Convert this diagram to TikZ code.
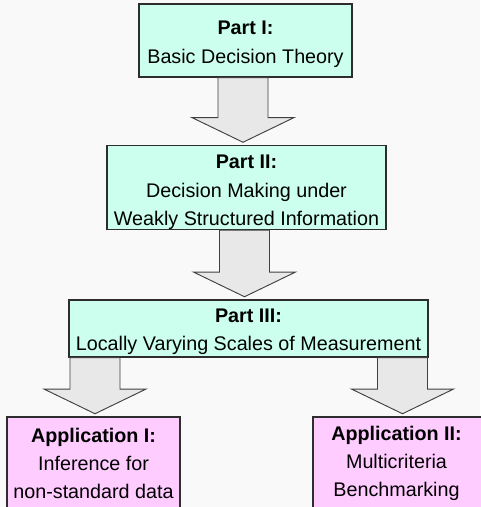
\documentclass[tikz,border=0pt]{standalone}
\usepackage{fontspec}
\setmainfont{Liberation Sans}
\usetikzlibrary{calc}
\definecolor{bgcol}{RGB}{249,249,249}
\definecolor{partfill}{RGB}{204,255,238}
\definecolor{appfill}{RGB}{255,204,255}
\definecolor{arrowfill}{RGB}{232,232,232}
\definecolor{arrowline}{RGB}{64,64,64}
\definecolor{boxline}{RGB}{45,45,45}
\tikzset{
  box/.style={draw=boxline, line width=0.9pt, align=center, inner sep=0pt,
    font=\fontsize{14.8}{21.2}\selectfont},
  partbox/.style={box, fill=partfill},
  appbox/.style={box, fill=appfill},
  appframe/.style={draw=boxline, line width=0.9pt, fill=appfill},
  blockarrowstyle/.style={draw=arrowline, line width=0.7pt, fill=arrowfill, line join=miter}
}
\newcommand\blockarrow[2]{%
  \draw[blockarrowstyle] let \p1=(#1), \p2=(#2) in
    (\x1-18.75pt,\y1) -- (\x1-18.75pt,\y2+20.5pt) -- (\x1-38.25pt,\y2+20.5pt)
    -- (\x1,\y2+2pt) -- (\x1+38.25pt,\y2+20.5pt) -- (\x1+18.75pt,\y2+20.5pt)
    -- (\x1+18.75pt,\y1) -- cycle;}
\begin{document}
\begin{tikzpicture}[x=0.75pt,y=-0.75pt]
  \fill[bgcol] (0,0) rectangle (480,507);
  \useasboundingbox (0,0) rectangle (480,507);
  \node[partbox, minimum width=159.75pt, minimum height=54.75pt] (p1) at (245.5,40.5)
    {\rule{0pt}{16pt}\textbf{Part I:}\\Basic Decision Theory};
  \node[partbox, minimum width=209.25pt, minimum height=60.75pt] (p2) at (246.5,187.5)
    {\rule{0pt}{17.5pt}\textbf{Part II:}\\Decision Making under\\Weakly Structured Information};
  \node[partbox, minimum width=269.25pt, minimum height=42.75pt] (p3) at (248.5,328.5)
    {\rule{0pt}{15pt}\textbf{Part III:}\\Locally Varying Scales of Measurement};
  \node[appbox, minimum width=129.75pt, minimum height=69.75pt] (a1) at (93.5,463.5)
    {\textbf{Application I:}\\Inference for\\non-standard data};
  \draw[appframe] (313,417) rectangle (492,515);
  \node[box, draw=none, minimum width=125.25pt, minimum height=69.75pt] (a2) at (396.5,463.5)
    {\textbf{Application II:}\\Multicriteria\\Benchmarking};
  \coordinate (s1) at ($(p1.south)+(-2.5,0)$);
  \blockarrow{s1}{s1 |- p2.north}
  \coordinate (s2) at ($(p2.south)+(-2,0)$);
  \blockarrow{s2}{s2 |- p3.north}
  \coordinate (s3) at ($(p3.south -| a1.north)+(1.5,0)$);
  \blockarrow{s3}{s3 |- a1.north}
  \coordinate (s4) at ($(p3.south -| a2.north)+(6,0)$);
  \blockarrow{s4}{s4 |- a2.north}
\end{tikzpicture}
\end{document}
